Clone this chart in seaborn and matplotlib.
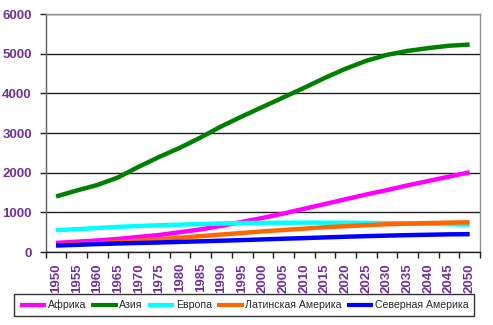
import matplotlib
matplotlib.use("Agg")
import matplotlib.pyplot as plt
import seaborn as sns
import pandas as pd
import numpy as np
from matplotlib.ticker import FixedLocator

years = [1950, 1955, 1960, 1965, 1970, 1975, 1980, 1985, 1990, 1995, 2000,
         2005, 2010, 2015, 2020, 2025, 2030, 2035, 2040, 2045, 2050]

africa = [230, 260, 290, 330, 380, 430, 500, 570, 660, 760, 860,
          970, 1090, 1210, 1330, 1450, 1560, 1680, 1790, 1900, 2010]
asia = [1400, 1550, 1690, 1880, 2150, 2400, 2630, 2890, 3170, 3420, 3660,
        3900, 4140, 4390, 4620, 4820, 4970, 5070, 5140, 5200, 5230]
europe = [550, 575, 605, 635, 655, 675, 690, 705, 720, 728, 735,
          738, 740, 740, 738, 733, 727, 720, 710, 700, 690]
latam = [170, 195, 220, 250, 285, 325, 360, 400, 440, 480, 520,
         555, 590, 625, 650, 675, 700, 715, 730, 740, 750]
namerica = [165, 180, 200, 215, 228, 240, 255, 270, 285, 300, 318,
            335, 350, 368, 385, 400, 413, 425, 435, 445, 450]

series_names = ["Африка", "Азия", "Европа", "Латинская Америка", "Северная Америка"]
series_values = [africa, asia, europe, latam, namerica]
colors = ["#FF00FF", "#008000", "#00FFFF", "#FF6600", "#0000FF"]

rows = []
for name, vals in zip(series_names, series_values):
    for i, (y, v) in enumerate(zip(years, vals)):
        rows.append({"idx": i, "year": y, "value": v, "region": name})
df = pd.DataFrame(rows)

sns.set_style("white")
plt.rcParams['font.family'] = ['Liberation Sans', 'DejaVu Sans']

fig = plt.figure(figsize=(4.93, 3.25), dpi=100)
ax = fig.add_axes([0.0927, 0.2246, 0.9736 - 0.0927, 0.9569 - 0.2246])

sns.lineplot(data=df, x="idx", y="value", hue="region", hue_order=series_names,
             palette=colors, linewidth=3.2, ax=ax, legend=True,
             solid_capstyle="butt")

ax.set_xlim(-0.5, len(years) - 0.5)
ax.set_ylim(0, 6000)
ax.set_yticks(range(0, 6001, 1000))
ax.set_xticks(range(len(years)))
ax.set_xticklabels([str(y) for y in years], rotation=90)
ax.xaxis.set_minor_locator(FixedLocator(np.arange(-0.5, len(years), 1.0)))
ax.set_xlabel("")
ax.set_ylabel("")

purple = "#7030A0"
ax.tick_params(axis="x", which="major", length=0, pad=8, labelsize=9.5,
               labelcolor=purple)
ax.tick_params(axis="x", which="minor", length=4, width=1, color="#202020",
               direction="out", bottom=True)
ax.tick_params(axis="y", which="major", length=4, width=1, color="#202020",
               direction="out", left=True, pad=6, labelsize=9.5, labelcolor=purple)
for lab in ax.get_xticklabels() + ax.get_yticklabels():
    lab.set_fontweight("bold")

ax.yaxis.grid(True, color="#202020", linewidth=1)
ax.xaxis.grid(False)
ax.set_axisbelow(True)

for side in ["top", "right"]:
    ax.spines[side].set_color("#909090")
    ax.spines[side].set_linewidth(1)
ax.spines["left"].set_color("#606060")
ax.spines["bottom"].set_color("#202020")
ax.spines["left"].set_linewidth(1)
ax.spines["bottom"].set_linewidth(1)

handles, labels = ax.get_legend_handles_labels()
ax.legend_.remove()
leg = fig.legend(handles, labels, loc="center", ncol=5,
                 bbox_to_anchor=(0.495, 0.0615), frameon=True, fancybox=False,
                 edgecolor="black", fontsize=7.6, handlelength=2.5,
                 handletextpad=0.15, columnspacing=0.5, borderpad=0.5,
                 borderaxespad=0)
leg.get_frame().set_linewidth(1)
for line in leg.get_lines():
    line.set_linewidth(3)

fig.savefig("out.png", dpi=100)
